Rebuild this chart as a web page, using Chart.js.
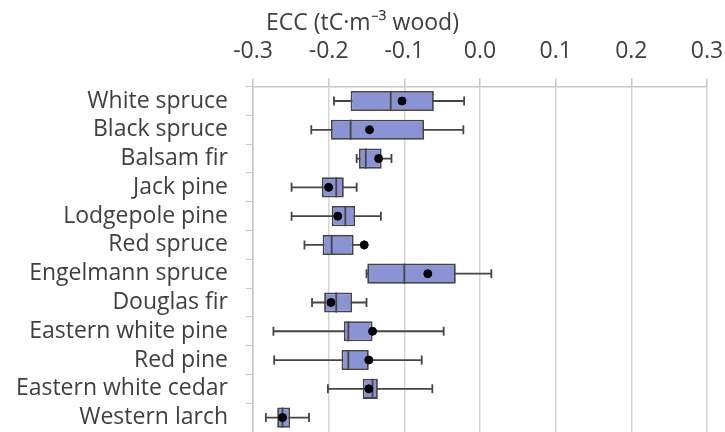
<!DOCTYPE html>
<html>
<head>
<meta charset="utf-8">
<script src="https://cdn.jsdelivr.net/npm/chart.js@4"></script>
<style>
  html, body { margin: 0; padding: 0; background: #fff; }
  #wrap { width: 725px; height: 432px; }
</style>
</head>
<body>
<div id="wrap"><canvas id="myChart" width="725" height="432"></canvas></div>
<script>
const species = [
    'White spruce', 'Black spruce', 'Balsam fir', 'Jack pine', 'Lodgepole pine', 'Red spruce',
    'Engelmann spruce', 'Douglas fir', 'Eastern white pine', 'Red pine', 'Eastern white cedar', 'Western larch'
];
const whiskerLow  = [-0.193, -0.223, -0.163, -0.249, -0.249, -0.232, -0.150, -0.222, -0.273, -0.272, -0.201, -0.283];
const q1          = [-0.171, -0.197, -0.160, -0.209, -0.196, -0.208, -0.149, -0.206, -0.180, -0.183, -0.155, -0.268];
const median      = [-0.118, -0.171, -0.151, -0.190, -0.178, -0.196, -0.100, -0.190, -0.174, -0.174, -0.142, -0.261];
const q3          = [-0.061, -0.074, -0.130, -0.180, -0.165, -0.167, -0.032, -0.169, -0.142, -0.147, -0.135, -0.251];
const whiskerHigh = [-0.021, -0.022, -0.117, -0.163, -0.131, -0.153, 0.015, -0.150, -0.048, -0.077, -0.063, -0.226];
const mean        = [-0.103, -0.146, -0.134, -0.200, -0.188, -0.153, -0.069, -0.197, -0.142, -0.147, -0.147, -0.261];

const FONT = "'Open Sans', sans-serif";
const TEXT = '#404040';
const EDGE = '#454545';

// whiskers behind the boxes, medians on top of them
const boxParts = {
    id: 'boxParts',
    beforeDatasetsDraw(chart) {
        const ctx = chart.ctx, x = chart.scales.x, y = chart.scales.y;
        const cap = 4.5;
        ctx.save();
        ctx.strokeStyle = EDGE;
        ctx.lineWidth = 1.8;
        species.forEach((s, i) => {
            const py = y.getPixelForValue(i);
            const lo = x.getPixelForValue(whiskerLow[i]);
            const hi = x.getPixelForValue(whiskerHigh[i]);
            ctx.beginPath();
            ctx.moveTo(lo, py); ctx.lineTo(hi, py);
            ctx.moveTo(lo, py - cap); ctx.lineTo(lo, py + cap);
            ctx.moveTo(hi, py - cap); ctx.lineTo(hi, py + cap);
            ctx.stroke();
        });
        ctx.restore();
    },
    afterDatasetDraw(chart, args) {
        if (args.index !== 0) return;
        const ctx = chart.ctx, x = chart.scales.x;
        const bars = chart.getDatasetMeta(0).data;
        ctx.save();
        ctx.strokeStyle = EDGE;
        ctx.lineWidth = 1.8;
        bars.forEach((bar, i) => {
            const px = x.getPixelForValue(median[i]);
            ctx.beginPath();
            ctx.moveTo(px, bar.y - bar.height / 2);
            ctx.lineTo(px, bar.y + bar.height / 2);
            ctx.stroke();
        });
        ctx.restore();
    }
};

const config = {
    type: 'bar',
    data: {
        labels: species,
        datasets: [{
            label: 'IQR',
            data: species.map((s, i) => [q1[i], q3[i]]),
            backgroundColor: '#8a94d5',
            borderColor: EDGE,
            borderWidth: 1.8,
            borderSkipped: false,
            barPercentage: 0.7,
            categoryPercentage: 1,
            order: 2
        }, {
            type: 'line',
            label: 'Mean',
            data: mean,
            showLine: false,
            pointRadius: 4,
            pointBackgroundColor: '#000',
            pointBorderColor: '#000',
            order: 1
        }]
    },
    options: {
        indexAxis: 'y',
        responsive: false,
        animation: false,
        layout: { autoPadding: false, padding: 0 },
        plugins: {
            legend: { display: false },
            tooltip: { enabled: false },
            title: {
                display: true,
                text: 'ECC (tC\u00b7m\u207b\u00b3 wood)',
                color: TEXT,
                font: { family: FONT, size: 23, weight: 'normal', lineHeight: 1.2 },
                padding: { top: 10, bottom: 0 },
                align: 'center'
            }
        },
        scales: {
            x: {
                position: 'top',
                min: -0.3,
                max: 0.3,
                ticks: {
                    stepSize: 0.1,
                    color: TEXT,
                    font: { family: FONT, size: 23 },
                    padding: 13,
                    callback: v => (Math.abs(v) < 1e-9 ? 0 : v).toFixed(1)
                },
                grid: { color: '#d6d6d6', lineWidth: 1.5, tickLength: 8, tickColor: '#c8c8c8' },
                border: { color: '#c8c8c8', width: 1.5 },
                afterFit: scale => {
                    scale.height = 49;
                    scale.paddingLeft = 0;
                    scale.paddingRight = 18;
                }
            },
            y: {
                ticks: {
                    color: TEXT,
                    font: { family: FONT, size: 23 },
                    padding: 18,
                    autoSkip: false
                },
                grid: { drawOnChartArea: false, tickLength: 7, color: '#c8c8c8', offset: true },
                border: { color: '#c8c8c8', width: 1.5 },
                afterFit: scale => {
                    scale.width = 253;
                    scale.paddingTop = 0;
                    scale.paddingBottom = 0;
                }
            }
        }
    },
    plugins: [boxParts]
};

const myChart = new Chart(document.getElementById('myChart'), config);
</script>
</body>
</html>
